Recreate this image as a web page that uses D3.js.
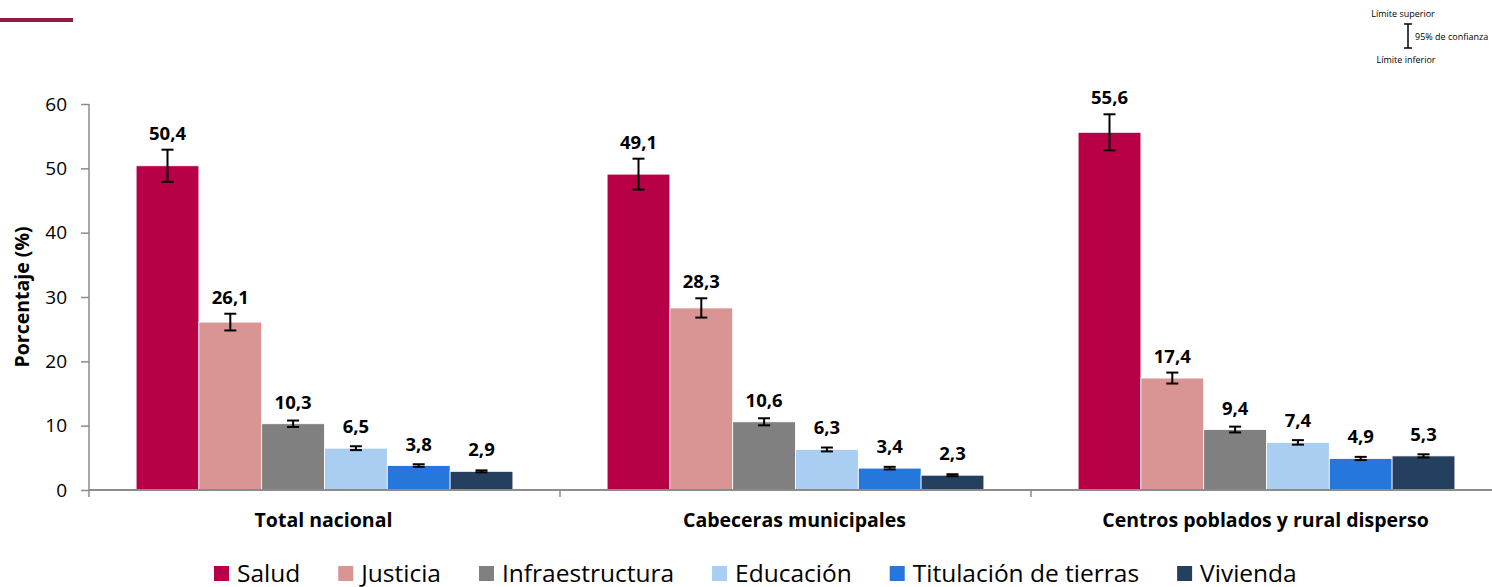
<!DOCTYPE html>
<html><head><meta charset="utf-8">
<script src="https://cdn.jsdelivr.net/npm/d3@7"></script>
<style>body{margin:0;background:#fff;} svg{display:block;}</style>
</head><body>
<svg id="chart" width="1492" height="587"></svg>
<script>
const categories = ["Total nacional", "Cabeceras municipales", "Centros poblados y rural disperso"];
const series = ["Salud", "Justicia", "Infraestructura", "Educación", "Titulación de tierras", "Vivienda"];
const colors = ["#B80046", "#D99594", "#808080", "#A9CEF2", "#2577DB", "#253F5F"];
const salud = [50.4, 49.1, 55.6];
const justicia = [26.1, 28.3, 17.4];
const infraestructura = [10.3, 10.6, 9.4];
const educacion = [6.5, 6.3, 7.4];
const titulacion = [3.8, 3.4, 4.9];
const vivienda = [2.9, 2.3, 5.3];
// confidence half-widths (95%)
const errSalud = [2.5, 2.4, 2.8];
const errJusticia = [1.3, 1.5, 0.85];
const errInfra = [0.5, 0.55, 0.45];
const errEducacion = [0.3, 0.3, 0.35];
const errTitulacion = [0.2, 0.2, 0.25];
const errVivienda = [0.15, 0.15, 0.25];
const yTicks = [0, 10, 20, 30, 40, 50, 60];

const values = [salud, justicia, infraestructura, educacion, titulacion, vivienda];
const errs = [errSalud, errJusticia, errInfra, errEducacion, errTitulacion, errVivienda];

const svg = d3.select("#chart");
const font = "'Open Sans', 'Noto Sans', sans-serif";
const axisColor = "#8c8c8c";

const x0 = d3.scaleBand().domain(categories).range([89, 1502]).padding(0);
const x1 = d3.scaleBand().domain(series).range([0, x0.bandwidth()]).paddingInner(0).paddingOuter(0.75);
const y = d3.scaleLinear().domain([0, 60]).range([490, 104]);

// top-left decorative line
svg.append("rect").attr("x", 0).attr("y", 18).attr("width", 73).attr("height", 4).attr("fill", "#951A43");

// bars
const data = [];
categories.forEach((c, ci) => series.forEach((s, si) => {
  data.push({c, s, si, v: values[si][ci], e: errs[si][ci]});
}));

const g = svg.append("g");
g.selectAll("rect.bar").data(data).join("rect")
  .attr("class", "bar")
  .attr("x", d => x0(d.c) + x1(d.s))
  .attr("y", d => y(d.v))
  .attr("width", x1.bandwidth())
  .attr("height", d => y(0) - y(d.v))
  .attr("fill", d => colors[d.si])
  .attr("stroke", "#ffffff").attr("stroke-width", 0.8);

// error bars
const eg = g.selectAll("g.err").data(data).join("g").attr("class", "err")
  .attr("stroke", "#000").attr("stroke-width", 2);
const cx = d => x0(d.c) + x1(d.s) + x1.bandwidth() / 2;
eg.append("line").attr("x1", cx).attr("x2", cx).attr("y1", d => y(d.v + d.e)).attr("y2", d => y(d.v - d.e));
eg.append("line").attr("x1", d => cx(d) - 6).attr("x2", d => cx(d) + 6).attr("y1", d => y(d.v + d.e)).attr("y2", d => y(d.v + d.e));
eg.append("line").attr("x1", d => cx(d) - 6).attr("x2", d => cx(d) + 6).attr("y1", d => y(d.v - d.e)).attr("y2", d => y(d.v - d.e));

// value labels
g.selectAll("text.val").data(data).join("text")
  .attr("class", "val")
  .attr("x", cx)
  .attr("y", d => Math.min(y(d.v + d.e) - 10, y(d.v) - 15))
  .attr("text-anchor", "middle")
  .attr("font-family", font).attr("font-weight", "bold").attr("font-size", 18.5)
  .attr("fill", "#000")
  .text(d => d.v.toFixed(1).replace(".", ","));

// y axis
const yAxis = svg.append("g").attr("transform", "translate(89,0)")
  .call(d3.axisLeft(y).tickValues(yTicks).tickSize(8).tickPadding(14).tickSizeOuter(0));
yAxis.select(".domain").remove();
yAxis.append("line").attr("x1", 0).attr("x2", 0).attr("y1", 104).attr("y2", 497).attr("stroke", axisColor).attr("stroke-width", 1.5);
yAxis.selectAll(".tick line").attr("stroke", axisColor).attr("stroke-width", 1.5);
yAxis.selectAll(".tick text").attr("font-family", font).attr("font-size", 19).attr("fill", "#000");

// x axis
const xAxis = svg.append("g").attr("transform", "translate(0,490)");
xAxis.append("line").attr("x1", 89).attr("x2", 1492).attr("y1", 0).attr("y2", 0).attr("stroke", axisColor).attr("stroke-width", 2);
xAxis.selectAll("line.sep").data(categories.slice(1)).join("line").attr("class", "sep")
  .attr("x1", d => x0(d)).attr("x2", d => x0(d)).attr("y1", 0).attr("y2", 7)
  .attr("stroke", axisColor).attr("stroke-width", 1.5);
xAxis.selectAll("text").data(categories).join("text")
  .attr("x", d => x0(d) + x0.bandwidth() / 2 - 1)
  .attr("y", 37)
  .attr("text-anchor", "middle")
  .attr("font-family", font).attr("font-weight", "bold").attr("font-size", 19.5)
  .attr("fill", "#000")
  .text(d => d);

// y title
svg.append("text")
  .attr("transform", `translate(29,${(y(0) + y(60)) / 2}) rotate(-90)`)
  .attr("text-anchor", "middle")
  .attr("font-family", font).attr("font-weight", "bold").attr("font-size", 19.5)
  .text("Porcentaje (%)");

// bottom legend
const lg = svg.append("g").attr("transform", "translate(0,574)");
let lx = 214;
series.forEach((s, i) => {
  lg.append("rect").attr("x", lx).attr("y", -8).attr("width", 15).attr("height", 15).attr("fill", colors[i]);
  const t = lg.append("text").attr("x", lx + 23).attr("y", 8)
    .attr("font-family", font).attr("font-size", 24.5).attr("fill", "#000").text(s);
  const w = t.node().getComputedTextLength();
  lx += 23 + w + 38;
});

// confidence legend (top right)
const cl = svg.append("g").attr("font-family", font).attr("font-size", 9).attr("fill", "#000");
cl.append("text").attr("x", 1403).attr("y", 17).attr("text-anchor", "middle").text("Límite superior");
cl.append("text").attr("x", 1406).attr("y", 63).attr("text-anchor", "middle").text("Límite inferior");
cl.append("text").attr("x", 1415).attr("y", 40).text("95% de confianza");
const clg = svg.append("g").attr("stroke", "#000").attr("stroke-width", 1.5);
clg.append("line").attr("x1", 1408).attr("x2", 1408).attr("y1", 24).attr("y2", 48);
clg.append("line").attr("x1", 1404).attr("x2", 1412).attr("y1", 24).attr("y2", 24);
clg.append("line").attr("x1", 1404).attr("x2", 1412).attr("y1", 48).attr("y2", 48);
</script>
</body></html>
